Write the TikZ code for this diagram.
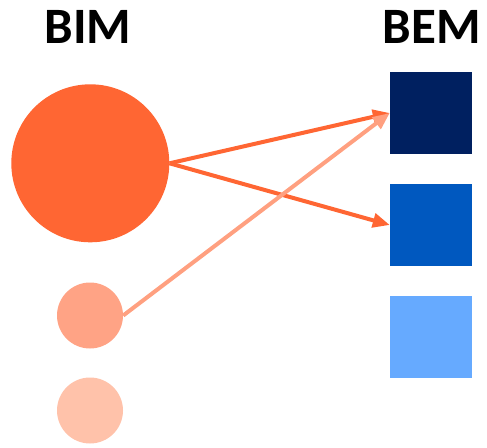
\documentclass[tikz,border=0pt]{standalone}
\usepackage{fontspec}
\setmainfont{Carlito}
\usetikzlibrary{arrows.meta}
\definecolor{bimA}{HTML}{FF6633}
\definecolor{bimB}{HTML}{FFA385}
\definecolor{bimC}{HTML}{FFC2AA}
\definecolor{bemA}{HTML}{002060}
\definecolor{bemB}{HTML}{0058BF}
\definecolor{bemC}{HTML}{66AAFF}
\definecolor{arrB}{HTML}{FFA080}
\tikzset{
  title/.style={font=\fontsize{51}{51}\selectfont\bfseries, inner sep=0pt, anchor=base},
  dot/.style={circle, inner sep=0pt, draw=none},
  sq/.style={rectangle, inner sep=0pt, draw=none, minimum width=82pt, minimum height=82pt},
  link/.style={line width=4pt, -{Triangle[length=17pt,width=14pt]}, shorten >=0pt},
}
\begin{document}
\begin{tikzpicture}[x=1pt,y=-1pt]
\useasboundingbox (0,0) rectangle (487,447);
\node[title] (bim) at (88,43) {BIM};
\node[title] (bem) at (432,43) {BEM};
\node[dot, fill=bimA, minimum size=158pt] (c1) at (90.3,163.3) {};
\node[dot, fill=bimB, minimum size=66pt] (c2) at (90,315.5) {};
\node[dot, fill=bimC, minimum size=66pt] (c3) at (90,410.5) {};
\node[sq, fill=bemA] (s1) at (431,113) {};
\node[sq, fill=bemB] (s2) at (431,225) {};
\node[sq, fill=bemC] (s3) at (431,337) {};
\draw[link, draw=bimA, fill=bimA] (c1.east) -- (s1.west);
\draw[link, draw=bimA, fill=bimA] (c1.east) -- (s2.west);
\draw[link, draw=arrB, fill=arrB] (c2.east) -- (s1.west);
\end{tikzpicture}
\end{document}
